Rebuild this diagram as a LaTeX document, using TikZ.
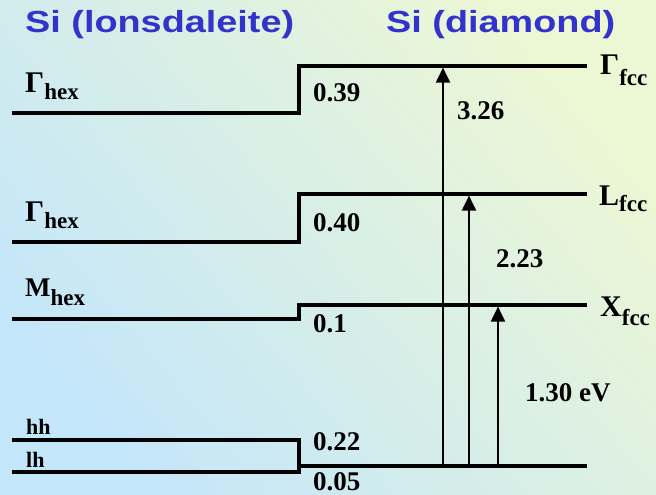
\documentclass[tikz,border=0pt]{standalone}
\usepackage{fontspec}
\setmainfont{Liberation Serif}
\newfontfamily\headfont{Liberation Sans}
\usetikzlibrary{arrows.meta}

\definecolor{bgblue}{RGB}{196,230,250}
\definecolor{bgyellow}{RGB}{236,247,212}
\definecolor{headblue}{RGB}{51,51,204}

% level name with a lowered subscript
\newcommand{\lvlname}[3][8pt]{#2\raisebox{-#1}{\fontsize{23}{23}\selectfont #3}}
\newcommand{\headtext}[1]{\scalebox{1.24}[1]{#1}}

\tikzset{
  bandline/.style={line width=3.3pt},
  trans/.style={line width=2pt, -{Triangle[length=15pt,width=14pt]}, shorten >=1.6pt},
  head/.style={anchor=base west, inner sep=0pt, text=headblue,
    font=\headfont\bfseries\fontsize{30.5}{30.5}\selectfont},
  lname/.style={anchor=base west, inner sep=0pt,
    font=\bfseries\fontsize{30}{30}\selectfont},
  lval/.style={anchor=base west, inner sep=0pt,
    font=\bfseries\fontsize{27}{27}\selectfont},
  hole/.style={anchor=base west, inner sep=0pt,
    font=\bfseries\fontsize{22}{22}\selectfont}
}

\begin{document}
\begin{tikzpicture}[x=1pt, y=1pt]
  \shade[bottom color=bgblue, top color=bgyellow, shading angle=-50] (0,0) rectangle (656,495);
  \useasboundingbox (0,0) rectangle (656,495);

  \node[head] (titlehex) at (25,462) {\headtext{Si (lonsdaleite)}};
  \node[head] (titledia) at (386,462) {\headtext{Si (diamond)}};

  % levels: hexagonal on the left, cubic on the right
  \draw[bandline] (12,382) -- (299,382) -- (299,429) -- (587,429);
  \draw[bandline] (12,253) -- (299,253) -- (299,301) -- (587,301);
  \draw[bandline] (12,176) -- (299,176) -- (299,190) -- (587,190);
  \draw[bandline] (12,55) -- (299,55) -- (299,23) -- (12,23);
  \draw[bandline] (299,29) -- (587,29);

  % transitions from the valence band top
  \coordinate (vbG) at (443,29);  \coordinate (cbG) at (443,429);
  \coordinate (vbL) at (469,29);  \coordinate (cbL) at (469,301);
  \coordinate (vbX) at (498,29);  \coordinate (cbX) at (498,190);
  \draw[trans] (vbG) -- (cbG);
  \draw[trans] (vbL) -- (cbL);
  \draw[trans] (vbX) -- (cbX);

  \node[lname] (ghexA) at (25,402) {\lvlname[7pt]{Γ}{hex}};
  \node[lname] (ghexB) at (25,273) {\lvlname[7pt]{Γ}{hex}};
  \node[lname, font=\bfseries\fontsize{27}{27}\selectfont] (mhex) at (25,198) {\lvlname[9pt]{M}{hex}};
  \node[hole] (hh) at (26,60) {hh};
  \node[hole] (lh) at (26,27) {lh};

  \node[lname] (gfcc) at (600,420) {\lvlname[11pt]{Γ}{fcc}};
  \node[lname] (lfcc) at (599,289) {\lvlname[6pt]{L}{fcc}};
  \node[lname] (xfcc) at (600,178) {\lvlname[9pt]{X}{fcc}};

  \node[lval] (dA) at (313,393) {0.39};
  \node[lval] (dB) at (313,263) {0.40};
  \node[lval] (dC) at (313,162) {0.1};
  \node[lval] (dD) at (313,44) {0.22};
  \node[lval] (dE) at (313,4) {0.05};

  \node[lval] (eG) at (457,375) {3.26};
  \node[lval] (eL) at (496,227) {2.23};
  \node[lval] (eX) at (525,93) {1.30 eV};
\end{tikzpicture}
\end{document}
